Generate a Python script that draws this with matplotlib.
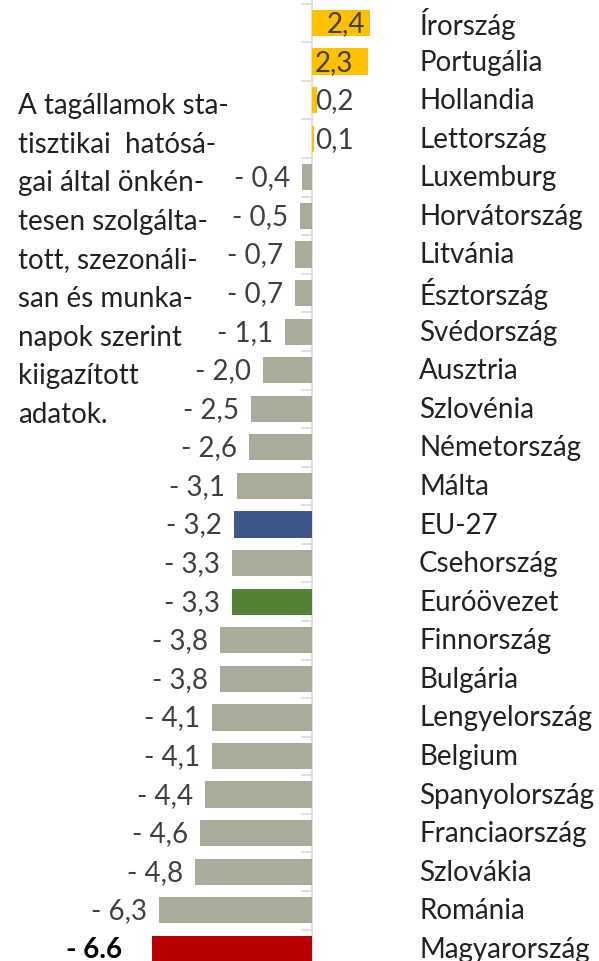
import matplotlib
matplotlib.use("Agg")
import matplotlib.pyplot as plt

# data, sorted top to bottom (first row is cut off at the top edge)
countries = ["Dánia", "Írország", "Portugália", "Hollandia", "Lettország",
             "Luxemburg", "Horvátország", "Litvánia", "Észtország", "Svédország",
             "Ausztria", "Szlovénia", "Németország", "Málta", "EU-27",
             "Csehország", "Euróövezet", "Finnország", "Bulgária", "Lengyelország",
             "Belgium", "Spanyolország", "Franciaország", "Szlovákia", "Románia",
             "Magyarország"]
values = [2.8, 2.4, 2.3, 0.2, 0.1, -0.4, -0.5, -0.7, -0.7, -1.1, -2.0, -2.5,
          -2.6, -3.1, -3.2, -3.3, -3.3, -3.8, -3.8, -4.1, -4.1, -4.4, -4.6,
          -4.8, -6.3, -6.6]
note = ["A tagállamok sta-", "tisztikai  hatósá-", "gai által önkén-",
        "tesen szolgálta-", "tott, szezonáli-", "san és munka-",
        "napok szerint", "kiigazított", "adatok."]

YELLOW = "#FFC000"
GRAY = "#A9AC9B"
special = {"EU-27": "#3F5689", "Euróövezet": "#548235", "Magyarország": "#B80000"}

plt.rcParams['font.family'] = ['Lato', 'DejaVu Sans']
FS = 20

fig = plt.figure(figsize=(5.99, 9.62), dpi=100)
ax = fig.add_axes([0, 0, 1, 1])

px = 24.3        # pixels per unit on x
zero_px = 312
row_px = 38.58
ax.set_xlim(-zero_px / px, (599 - zero_px) / px)
ax.set_ylim(1 + 938 / row_px, 1 - 24 / row_px)

ypos = list(range(len(countries)))
colors = []
for c, v in zip(countries, values):
    if c in special:
        colors.append(special[c])
    elif v > 0:
        colors.append(YELLOW)
    else:
        colors.append(GRAY)

ax.barh(ypos, values, height=0.68, color=colors, zorder=2)

# axis line and small ticks between categories
ax.axvline(0, color="#D9D9D9", lw=1.2, zorder=1)
for i in range(len(countries) + 1):
    ax.plot([-10 / px, 0], [i - 0.5, i - 0.5], color="#D9D9D9", lw=1.2, zorder=1)

for y, c, v in zip(ypos, countries, values):
    ax.text((419 - zero_px) / px, y, c, ha="left", va="center",
            fontsize=FS, color="#222222")
    txt = f"{abs(v):.1f}".replace(".", ",")
    if c == "Magyarország":
        ax.text(v - 30 / px, y, "- " + f"{abs(v):.1f}", ha="right", va="center",
                fontsize=FS, color="black", fontweight="bold")
    elif v >= 0:
        shift = 15 if c == "Írország" else 3
        ax.text(shift / px, y, txt, ha="left", va="center", fontsize=FS,
                color="#404040")
    else:
        ax.text(v - 12 / px, y, "- " + txt, ha="right", va="center", fontsize=FS,
                color="#404040")

for k, line in enumerate(note):
    fig.text(18 / 599, 1 - (106 + k * 38.6) / 962, line, ha="left", va="center",
             fontsize=FS, color="#222222")

ax.axis("off")
fig.savefig("out.png", dpi=100)
